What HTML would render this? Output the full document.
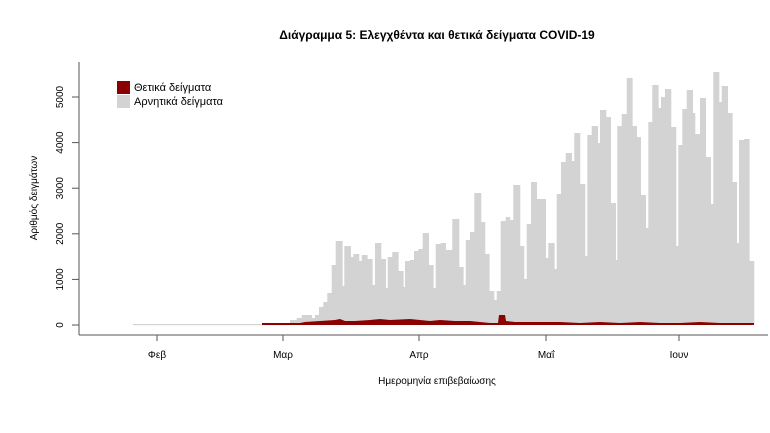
<!DOCTYPE html>
<html><head><meta charset="utf-8"><style>
body{margin:0;background:#fff}
svg{display:block;font-family:"Liberation Sans","DejaVu Sans",sans-serif}
</style></head><body>
<svg id="s" width="770" height="433" viewBox="0 0 770 433">
<text x="437" y="39" text-anchor="middle" font-size="12" font-weight="bold" fill="#000">Διάγραμμα 5: Ελεγχθέντα και θετικά δείγματα COVID-19</text>
<g id="bars"></g>
<line x1="79" y1="62" x2="79" y2="335" stroke="#555" stroke-width="1"/>
<line x1="79" y1="335" x2="768" y2="335" stroke="#555" stroke-width="1"/>
<g stroke="#555">
<line x1="72" y1="325" x2="79" y2="325"/><line x1="72" y1="279.4" x2="79" y2="279.4"/><line x1="72" y1="233.8" x2="79" y2="233.8"/><line x1="72" y1="188.2" x2="79" y2="188.2"/><line x1="72" y1="142.6" x2="79" y2="142.6"/><line x1="72" y1="97" x2="79" y2="97"/>
<line x1="157" y1="335" x2="157" y2="341"/><line x1="283" y1="335" x2="283" y2="341"/><line x1="419" y1="335" x2="419" y2="341"/><line x1="546" y1="335" x2="546" y2="341"/><line x1="679" y1="335" x2="679" y2="341"/>
</g>
<g font-size="10" fill="#000" text-anchor="middle">
<text transform="translate(63,325) rotate(-90)">0</text>
<text transform="translate(63,279.4) rotate(-90)">1000</text>
<text transform="translate(63,233.8) rotate(-90)">2000</text>
<text transform="translate(63,188.2) rotate(-90)">3000</text>
<text transform="translate(63,142.6) rotate(-90)">4000</text>
<text transform="translate(63,97) rotate(-90)">5000</text>
<text x="157" y="358">Φεβ</text><text x="283" y="358">Μαρ</text><text x="419" y="358">Απρ</text><text x="546" y="358">Μαΐ</text><text x="679" y="358">Ιουν</text>
<text x="437" y="384">Ημερομηνία επιβεβαίωσης</text>
<text transform="translate(37,198) rotate(-90)">Αριθμός δειγμάτων</text>
</g>
<rect x="117" y="81" width="13" height="13" fill="#8b0000"/>
<rect x="117" y="95" width="13" height="13" fill="#d3d3d3"/>
<text x="134" y="91" font-size="11">Θετικά δείγματα</text>
<text x="134" y="105" font-size="11">Αρνητικά δείγματα</text>
</svg>
<script>
var g=[[290,320],[296.7,318],[301.7,315],[311.7,318],[315,315],[319,307],[323.3,302],[327.3,293],[331.7,265],[335.7,241],[342.3,286],[344.3,246],[350.7,257],[353.3,254],[359,261],[361.7,255],[367.3,259],[372.3,285],[375,243],[381,259],[385.7,288],[387.7,257],[392.3,252],[398.3,271],[403.3,287],[405,261],[410,260],[414,251],[418.3,249],[422.7,233],[428.7,265],[433.3,288],[435.7,244],[440.7,243],[445.7,250],[452.3,219],[459,267],[463.3,285],[465.7,240],[470,232],[474.3,193],[481,222],[485,254],[489.3,291],[494,300],[496.7,291],[500.7,221],[505.7,217],[510,220],[513.3,185],[520,246],[524,279],[526.7,224],[531,182],[536.7,199],[545.7,258],[548.3,243],[554.3,269],[556.7,194],[561,162],[565.7,153],[571.7,161],[574.3,133],[580,184],[585,256],[587.3,135],[591.7,126],[597.7,143],[600,110],[606,117],[610.7,203],[615.7,260],[617.3,126],[621.7,114],[626.7,78],[632.3,126],[636.7,137],[640.7,195],[645.7,228],[648.3,122],[652.3,85],[658.3,108],[661,97],[665,89],[671,127],[676,246],[678.3,145],[682.3,109],[686.7,90],[692.7,113],[695,134],[700,98],[705.7,157],[710.7,204],[713.3,72],[719,102],[721.7,86],[727.7,113],[732.3,182],[736.7,243],[739,140],[744,139],[749.3,261],[754,261]];
var s='';
s+='<rect x="133" y="324" width="155" height="1.2" fill="#d3d3d3"/>';
for(var i=0;i<g.length-1;i++){s+='<rect x="'+g[i][0]+'" y="'+g[i][1]+'" width="'+(g[i+1][0]-g[i][0]+0.3)+'" height="'+(325-g[i][1])+'" fill="#d3d3d3"/>';}
s+='<polygon fill="#8b0000" points="262,325 262,323 300,323 305,322 320,321 335,320 340,319 345,321 355,321 370,320 380,319 390,320 410,319 420,320 430,321 440,320 455,321 470,321 480,322 490,323 498,323 499,315 505,315 506,321 515,322 530,322 545,322 560,322 580,323 600,322 620,323 640,322 660,323 680,323 700,322 720,323 754,323 754,325"/>';
document.getElementById('bars').innerHTML=s;
</script>
</body></html>
